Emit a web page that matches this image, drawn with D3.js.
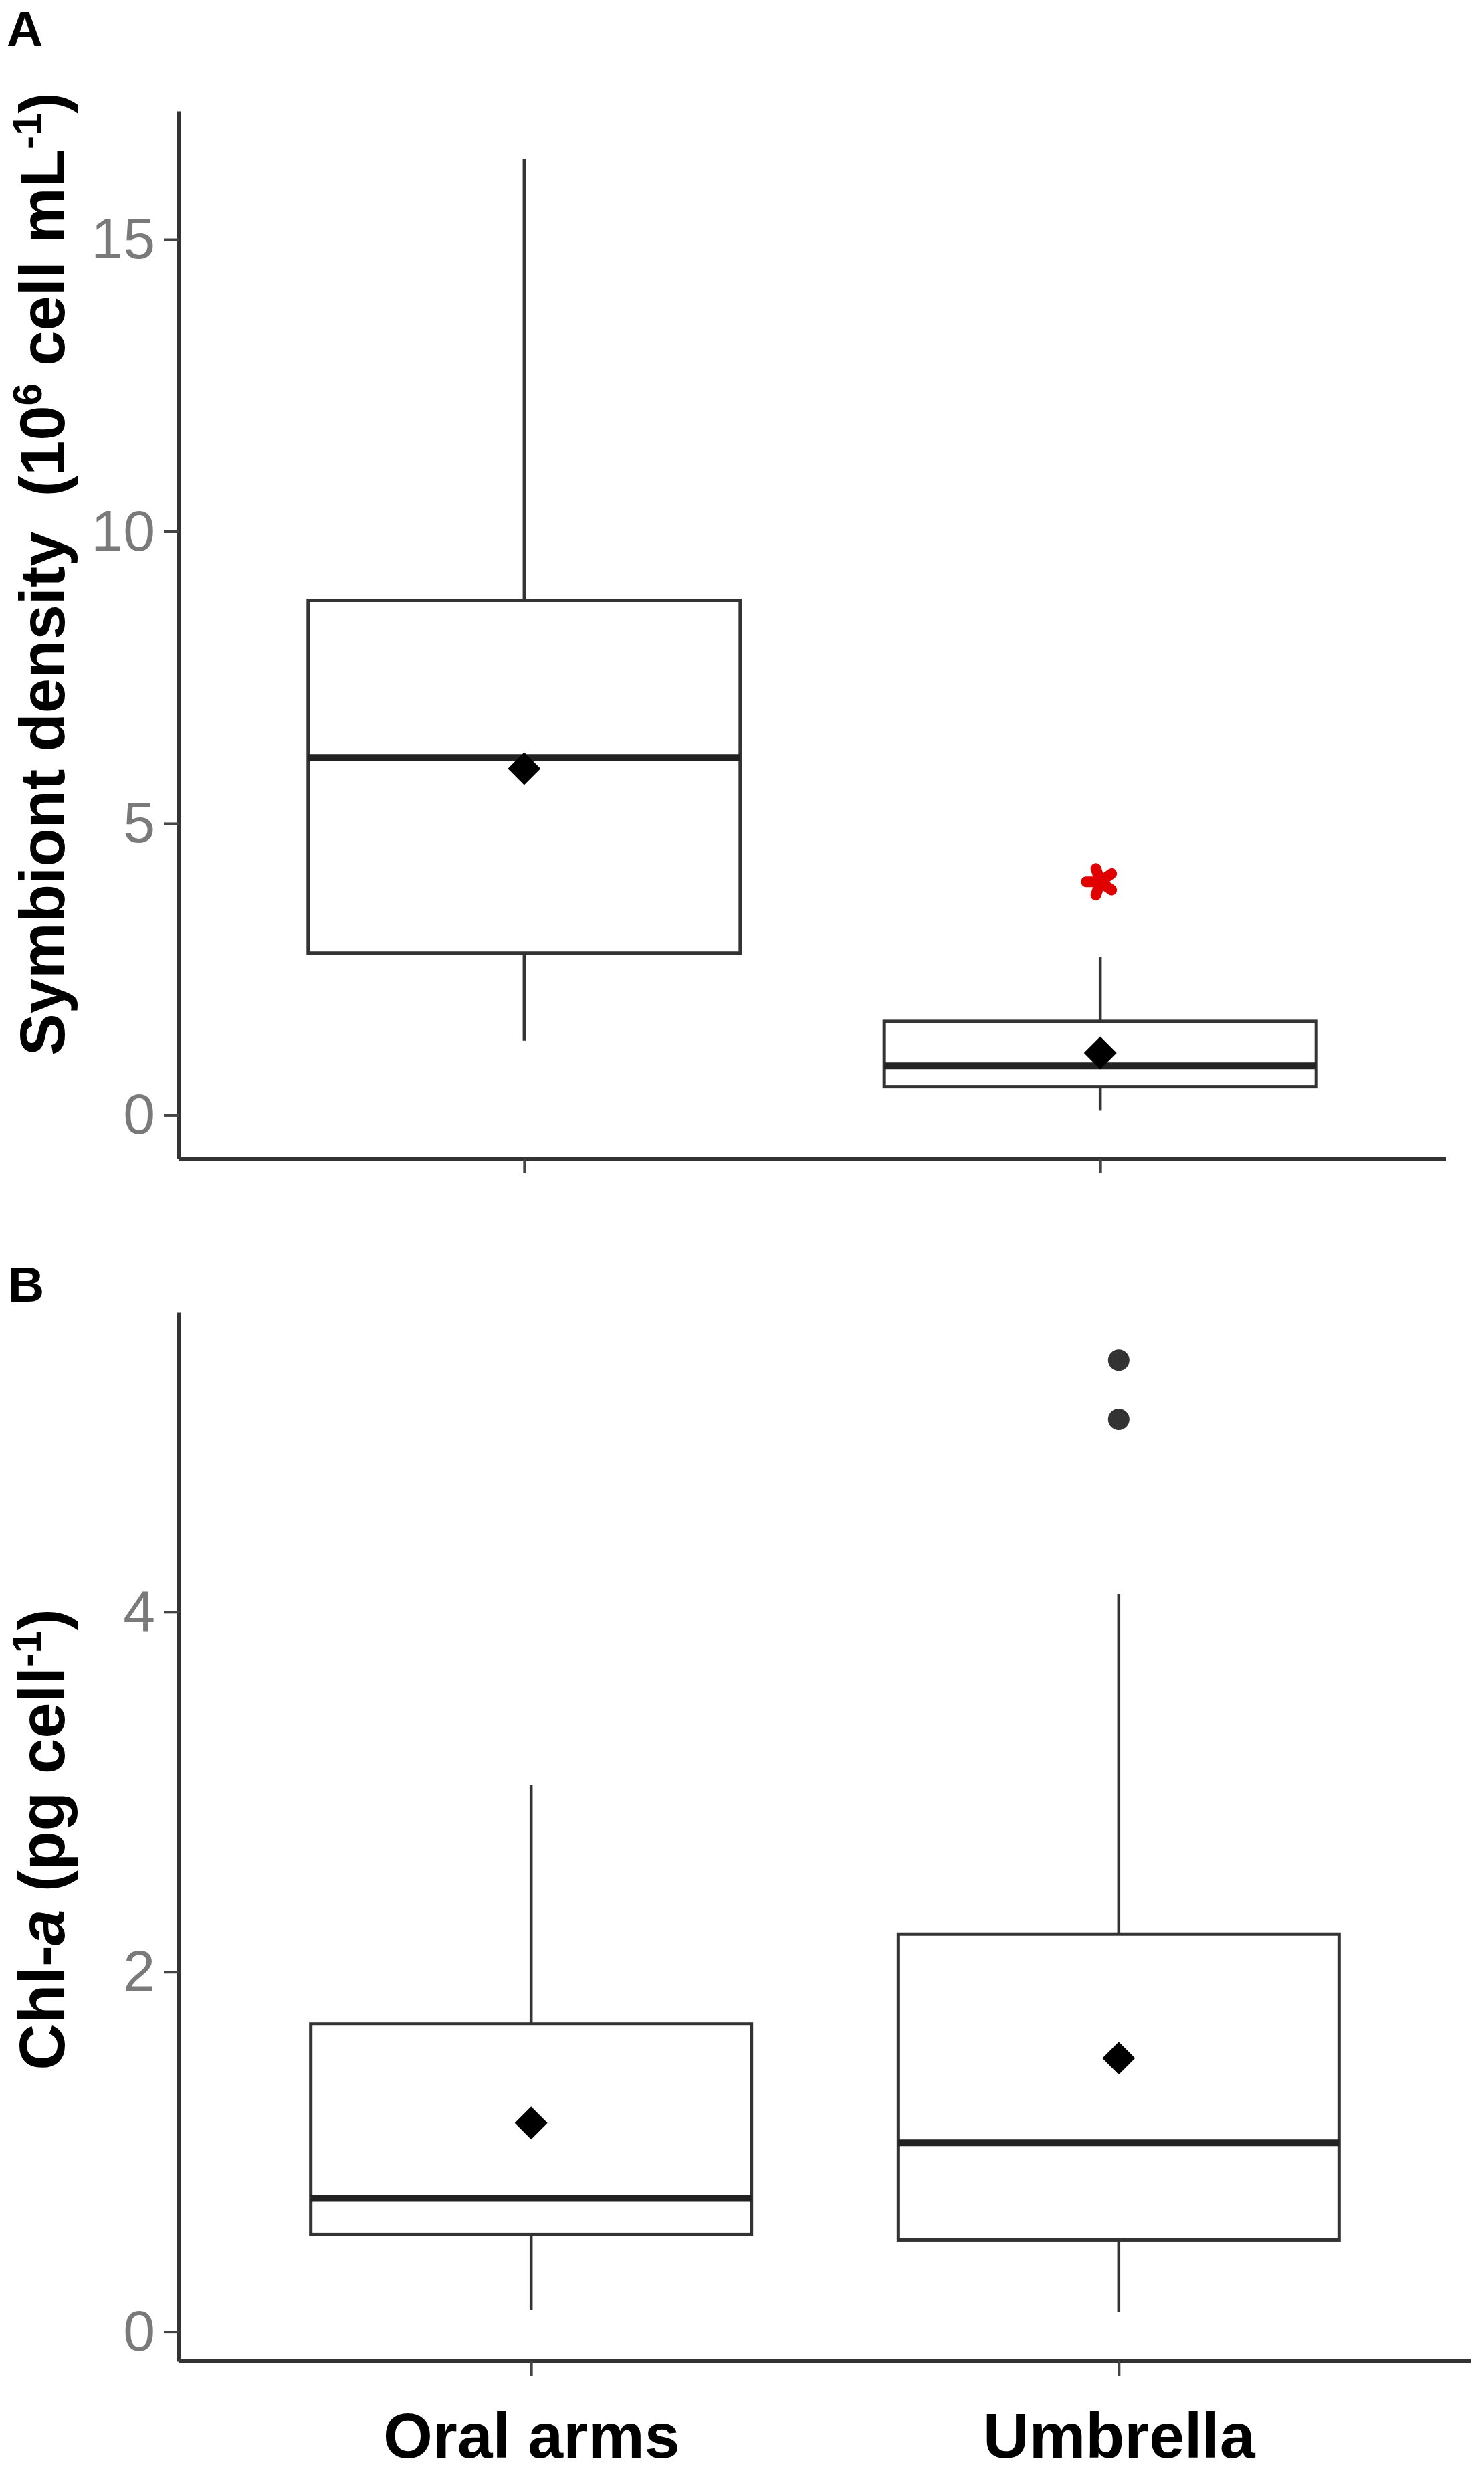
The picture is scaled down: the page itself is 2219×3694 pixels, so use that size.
<!DOCTYPE html>
<html>
<head>
<meta charset="utf-8">
<script src="https://cdn.jsdelivr.net/npm/d3@7"></script>
<style>
  html, body { margin: 0; padding: 0; background: #fff; }
  svg { display: block; }
</style>
</head>
<body>
<script>
// ---------------- DATA ----------------
const categories = ["Oral arms", "Umbrella"];

// Panel A: Symbiont density (10^6 cell mL^-1)
const densWhiskerLow  = [1.28, 0.08];
const densQ1          = [2.78, 0.49];
const densMedian      = [6.13, 0.85];
const densQ3          = [8.82, 1.61];
const densWhiskerHigh = [16.38, 2.72];
const densMean        = [5.94, 1.07];
const densOutliers    = [[], []];
const densTicks       = [0, 5, 10, 15];
const densSignifCat   = ["Umbrella"];
const densSignifValue = [4.0];

// Panel B: Chl-a (pg cell^-1)
const chlWhiskerLow  = [0.12, 0.11];
const chlQ1          = [0.54, 0.51];
const chlMedian      = [0.74, 1.05];
const chlQ3          = [1.71, 2.21];
const chlWhiskerHigh = [3.04, 4.10];
const chlMean        = [1.16, 1.52];
const chlOutliers    = [[], [5.07, 5.40]];
const chlTicks       = [0, 2, 4];
const chlSignifCat   = [];
const chlSignifValue = [];

// ---------------- LAYOUT ----------------
const W = 2219, H = 3694;
const svg = d3.select("body").append("svg")
  .attr("width", W).attr("height", H)
  .attr("viewBox", `0 0 ${W} ${H}`);
svg.append("rect").attr("width", W).attr("height", H).attr("fill", "#fff");

const FONT = "'Liberation Sans', Arial, Helvetica, sans-serif";

function buildStats(lo, q1, med, q3, hi, mean, outl) {
  return categories.map((c, i) => ({
    cat: c, lo: lo[i], q1: q1[i], med: med[i], q3: q3[i], hi: hi[i], mean: mean[i], out: outl[i]
  }));
}

function drawPanel(cfg) {
  const g = svg.append("g");
  const x = d3.scalePoint().domain(categories).range([cfg.left, cfg.right]).padding(0.6);
  const y = d3.scaleLinear().domain(cfg.domain).range([cfg.bottom, cfg.top]);
  const bw = x.step() * 0.75;

  // boxes
  const box = g.selectAll(".box").data(cfg.stats).join("g");
  box.append("line")
    .attr("x1", d => x(d.cat)).attr("x2", d => x(d.cat))
    .attr("y1", d => y(d.hi)).attr("y2", d => y(d.q3))
    .attr("stroke", "#333").attr("stroke-width", 4.5);
  box.append("line")
    .attr("x1", d => x(d.cat)).attr("x2", d => x(d.cat))
    .attr("y1", d => y(d.q1)).attr("y2", d => y(d.lo))
    .attr("stroke", "#333").attr("stroke-width", 4.5);
  box.append("rect")
    .attr("x", d => x(d.cat) - bw / 2).attr("width", bw)
    .attr("y", d => y(d.q3)).attr("height", d => y(d.q1) - y(d.q3))
    .attr("fill", "#fff").attr("stroke", "#333").attr("stroke-width", 5);
  box.append("line")
    .attr("x1", d => x(d.cat) - bw / 2).attr("x2", d => x(d.cat) + bw / 2)
    .attr("y1", d => y(d.med)).attr("y2", d => y(d.med))
    .attr("stroke", "#222").attr("stroke-width", 10);
  // outliers
  box.selectAll(".out").data(d => d.out.map(v => ({ cat: d.cat, v }))).join("circle")
    .attr("cx", d => x(d.cat)).attr("cy", d => y(d.v)).attr("r", 16)
    .attr("fill", "#333");
  // mean diamonds
  box.append("path")
    .attr("d", d3.symbol().type(d3.symbolSquare).size(1200))
    .attr("transform", d => `translate(${x(d.cat)},${y(d.mean)}) rotate(45)`)
    .attr("fill", "#000");

  // significance asterisk (5 arms)
  cfg.signifCat.forEach((c, i) => {
    const cx = x(c), cy = y(cfg.signifValue[i]);
    const p = d3.path();
    for (let k = 0; k < 5; k++) {
      const a = Math.PI + k * 2 * Math.PI / 5;
      p.moveTo(cx, cy);
      p.lineTo(cx + 21 * Math.cos(a), cy + 21 * Math.sin(a));
    }
    g.append("path").attr("d", p.toString())
      .attr("stroke", "#e00000").attr("stroke-width", 16)
      .attr("stroke-linecap", "round").attr("fill", "none");
  });

  // y axis
  const ya = g.append("g").attr("transform", `translate(${cfg.left},0)`)
    .call(d3.axisLeft(y).tickValues(cfg.ticks).tickFormat(d3.format("d"))
      .tickSize(22).tickSizeOuter(0).tickPadding(13));
  ya.select(".domain").attr("stroke", "#333").attr("stroke-width", 6);
  ya.selectAll(".tick line").attr("stroke", "#444").attr("stroke-width", 4);
  ya.selectAll(".tick text").attr("font-family", FONT).attr("font-size", 86)
    .attr("fill", "#7a7a7a");

  // x axis
  const xa = g.append("g").attr("transform", `translate(0,${cfg.bottom})`)
    .call(d3.axisBottom(x).tickSize(22).tickSizeOuter(0).tickPadding(55));
  xa.select(".domain").attr("stroke", "#333").attr("stroke-width", 6)
    .attr("d", `M${cfg.left},0H${cfg.right}`);
  xa.selectAll(".tick line").attr("stroke", "#444").attr("stroke-width", 4);
  xa.selectAll(".tick text").attr("font-family", FONT).attr("font-size", 95)
    .attr("font-weight", "bold").attr("fill", "#000")
    .style("display", cfg.showX ? null : "none");

  // y title
  const t = svg.append("text")
    .attr("transform", `translate(${cfg.titleX},${cfg.titleY}) rotate(-90)`)
    .attr("text-anchor", "middle").attr("font-family", FONT)
    .attr("font-weight", "bold").attr("font-size", cfg.titleSize).attr("fill", "#000");
  cfg.title.forEach(part => {
    const ts = t.append("tspan").text(part.t);
    if (part.sup) ts.attr("font-size", cfg.titleSize * 0.64).attr("dy", -cfg.titleSize * 0.36);
    if (part.after) ts.attr("dy", cfg.titleSize * 0.36);
    if (part.it) ts.attr("font-style", "italic");
  });

  // panel letter
  svg.append("text").attr("x", cfg.letterX).attr("y", cfg.letterY)
    .attr("font-family", FONT).attr("font-weight", "bold").attr("font-size", 75)
    .attr("fill", "#000").text(cfg.letter);
}

drawPanel({
  stats: buildStats(densWhiskerLow, densQ1, densMedian, densQ3, densWhiskerHigh, densMean, densOutliers),
  ticks: densTicks, signifCat: densSignifCat, signifValue: densSignifValue,
  left: 267, right: 2162, top: 166, bottom: 1732, domain: [-0.74, 17.2],
  showX: false,
  titleX: 96, titleY: 858, titleSize: 94,
  title: [
    { t: "Symbiont density\u00A0\u00A0(10" }, { t: "6", sup: true }, { t: " cell mL", after: true },
    { t: "-1", sup: true }, { t: ")", after: true }
  ],
  letter: "A", letterX: 10, letterY: 69
});

drawPanel({
  stats: buildStats(chlWhiskerLow, chlQ1, chlMedian, chlQ3, chlWhiskerHigh, chlMean, chlOutliers),
  ticks: chlTicks, signifCat: chlSignifCat, signifValue: chlSignifValue,
  left: 267, right: 2200, top: 1962, bottom: 3530, domain: [-0.165, 5.665],
  showX: true,
  titleX: 96, titleY: 2750, titleSize: 96,
  title: [
    { t: "Chl-" }, { t: "a", it: true }, { t: " (pg cell" }, { t: "-1", sup: true }, { t: ")", after: true }
  ],
  letter: "B", letterX: 12, letterY: 1946
});
</script>
</body>
</html>
